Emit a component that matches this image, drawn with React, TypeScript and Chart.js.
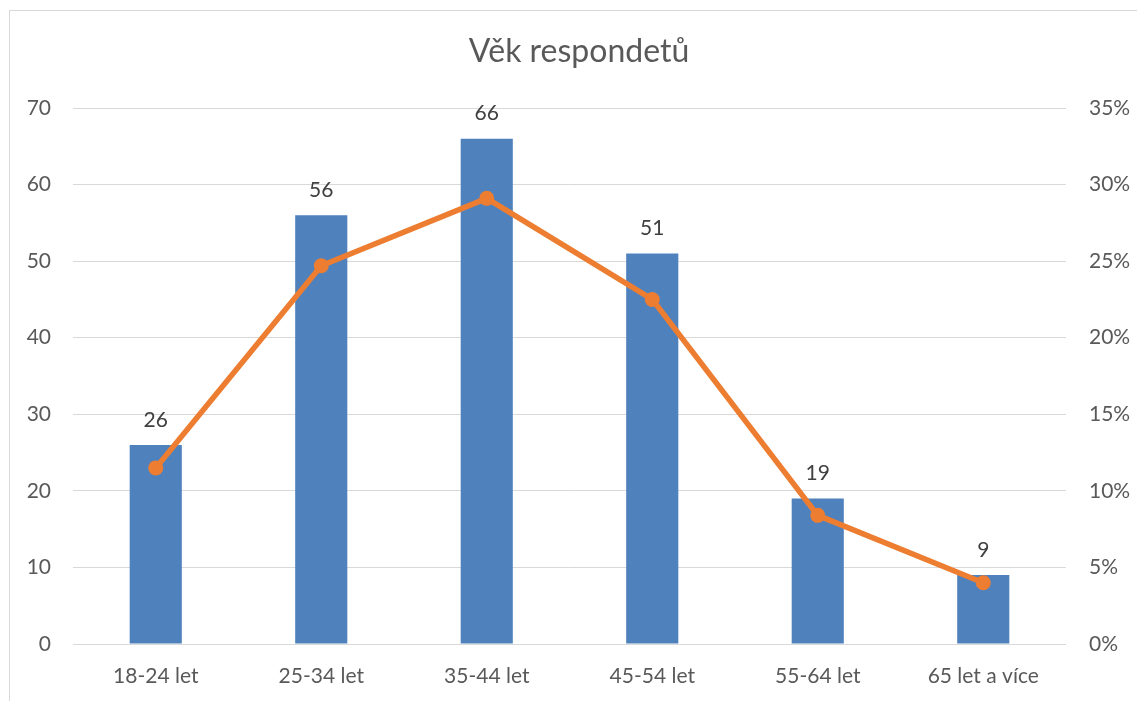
import React, { useEffect, useRef } from "react";
import { Chart, registerables } from "chart.js";

Chart.register(...registerables);

const categories = ["18-24 let", "25-34 let", "35-44 let", "45-54 let", "55-64 let", "65 let a více"];
const counts = [26, 56, 66, 51, 19, 9];
const shares = [0.115, 0.247, 0.291, 0.225, 0.084, 0.04];
const leftTicks = [0, 10, 20, 30, 40, 50, 60, 70];
const rightTicks = [0, 0.05, 0.1, 0.15, 0.2, 0.25, 0.3, 0.35];
const chartTitle = "Věk respondetů";

const FONT = "Lato, 'Open Sans', sans-serif";
const TEXT = "#595959";

const overlayPlugin = {
  id: "overlay",
  afterDatasetsDraw(chart: any) {
    const ctx = chart.ctx;
    const meta = chart.getDatasetMeta(0);
    ctx.save();
    ctx.fillStyle = "#404040";
    ctx.font = `21px ${FONT}`;
    ctx.textAlign = "center";
    ctx.textBaseline = "middle";
    meta.data.forEach((el: any, i: number) => {
      ctx.fillText(String(counts[i]), el.x, el.y - 25);
    });
    ctx.restore();
  },
  afterDraw(chart: any) {
    const ctx = chart.ctx;
    ctx.save();
    ctx.fillStyle = TEXT;
    ctx.font = `32px ${FONT}`;
    ctx.textAlign = "center";
    ctx.textBaseline = "middle";
    ctx.fillText(chartTitle, 579, 52);
    ctx.restore();
  },
};

export default function App() {
  const ref = useRef<HTMLCanvasElement | null>(null);
  useEffect(() => {
    if (!ref.current) return;
    const chart = new Chart(ref.current, {
      type: "bar",
      data: {
        labels: categories,
        datasets: [
          {
            type: "bar",
            data: counts,
            backgroundColor: "#4F81BD",
            barPercentage: 0.315,
            categoryPercentage: 1,
            yAxisID: "y",
            order: 2,
          } as any,
          {
            type: "line",
            data: shares,
            borderColor: "#ED7D31",
            backgroundColor: "#ED7D31",
            borderWidth: 5.5,
            pointRadius: 7.5,
            pointBackgroundColor: "#ED7D31",
            pointBorderColor: "#ED7D31",
            pointBorderWidth: 0,
            tension: 0,
            yAxisID: "y1",
            order: 1,
          } as any,
        ],
      },
      options: {
        animation: false,
        responsive: false,
        maintainAspectRatio: false,
        layout: { padding: { top: 108, left: 0, right: 0, bottom: 0 } },
        plugins: {
          legend: { display: false },
          title: { display: false },
          tooltip: { enabled: false },
        },
        scales: {
          x: {
            grid: { display: false, drawTicks: false },
            border: { display: false },
            ticks: { color: TEXT, font: { family: FONT, size: 21 }, padding: 20, maxRotation: 0 },
            afterFit: (s: any) => { s.height = 57; },
          },
          y: {
            position: "left",
            min: 0,
            max: 70,
            afterBuildTicks: (s: any) => { s.ticks = leftTicks.map((v) => ({ value: v })); },
            grid: { color: "#d9d9d9", lineWidth: 1, drawTicks: false },
            border: { display: false },
            ticks: { color: TEXT, font: { family: FONT, size: 21 }, padding: 22 },
            afterFit: (s: any) => { s.width = 73; },
          },
          y1: {
            position: "right",
            min: 0,
            max: 0.35,
            afterBuildTicks: (s: any) => { s.ticks = rightTicks.map((v) => ({ value: v })); },
            grid: { drawOnChartArea: false, drawTicks: false },
            border: { display: false },
            ticks: {
              color: TEXT,
              font: { family: FONT, size: 21 },
              padding: 23,
              callback: (v: any) => `${Math.round(Number(v) * 100)}%`,
            },
            afterFit: (s: any) => { s.width = 71; },
          },
        },
      },
      plugins: [overlayPlugin],
    });
    return () => chart.destroy();
  }, []);

  return (
    <div style={{ position: "fixed", left: 0, top: 0, width: 1137, height: 701, background: "#fff", overflow: "hidden" }}>
      <div
        style={{
          position: "absolute",
          left: 9,
          top: 10,
          right: -5,
          bottom: -5,
          borderLeft: "1px solid #d9d9d9",
          borderTop: "1px solid #d9d9d9",
        }}
      />
      <canvas ref={ref} width={1137} height={701} style={{ position: "absolute", left: 0, top: 0 }} />
    </div>
  );
}
